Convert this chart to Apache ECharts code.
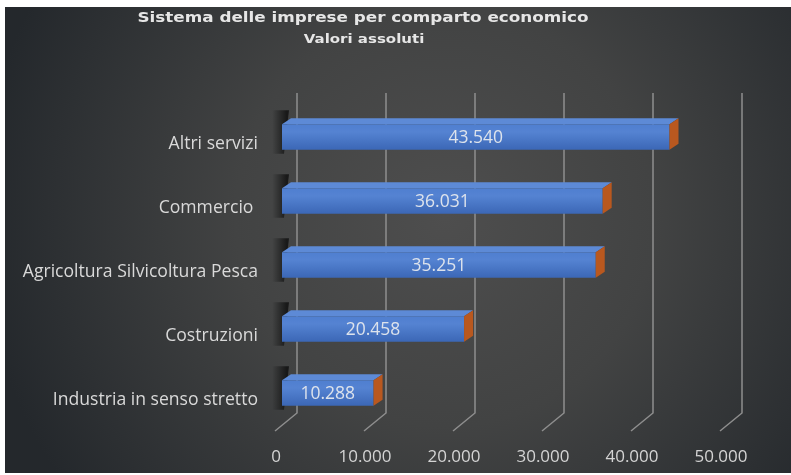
<!DOCTYPE html>
<html>
<head>
<meta charset="utf-8">
<script src="https://cdn.jsdelivr.net/npm/echarts@6/dist/echarts.min.js"></script>
<style>
html,body{margin:0;padding:0;background:#ffffff;}
#chart{position:absolute;left:5px;top:7px;width:786px;height:466px;}
</style>
</head>
<body>
<div id="chart"></div>
<script>
// ---- data ----
var titleText = 'Sistema delle imprese per comparto economico';
var subtitleText = 'Valori assoluti';
var categories = ['Altri servizi', 'Commercio ', 'Agricoltura Silvicoltura Pesca', 'Costruzioni', 'Industria in senso stretto'];
var values = [43540, 36031, 35251, 20458, 10288];
var tickValues = [0, 10000, 20000, 30000, 40000, 50000];

function fmt(v) {
  return String(v).replace(/\B(?=(\d{3})+(?!\d))/g, '.');
}

var chart = echarts.init(document.getElementById('chart'), null, {renderer: 'canvas'});

var DX = 9, DY = -6;          // bar depth vector
var BACK_DX = 15, BACK_DY = -12; // back plane offset
var FRONT_DX = -7, FRONT_DY = 6; // front floor offset

function renderFrame(params, api) {
  var cs = params.coordSys;
  var x = api.coord([api.value(0), 0])[0];
  var topY = cs.y + BACK_DY;
  var botY = cs.y + cs.height + BACK_DY;
  var frontY = cs.y + cs.height + FRONT_DY;
  return {
    type: 'polyline',
    shape: {points: [[x + BACK_DX, topY], [x + BACK_DX, botY], [x + FRONT_DX, frontY]]},
    style: {stroke: '#8e8e8e', lineWidth: 1.5, fill: null}
  };
}

function renderBar(params, api) {
  var v = api.value(0);
  var c = api.value(1);
  var start = api.coord([0, c]);
  var end = api.coord([v, c]);
  var h = api.size([0, 1])[1] * 0.4;
  var x0 = start[0], x1 = end[0];
  var y0 = start[1] - h / 2, y1 = start[1] + h / 2;
  return {
    type: 'group',
    children: [
      {
        type: 'polygon',
        shape: {points: [[x0 - 10, y0 + DY - 8], [x0 + DX - 2, y0 + DY - 8], [x0 + 2, y1 + 4], [x0 - 10, y1 + 4]]},
        style: {
          fill: new echarts.graphic.LinearGradient(0, 0, 1, 0, [
            {offset: 0, color: 'rgba(0,0,0,0)'},
            {offset: 0.55, color: 'rgba(0,0,0,0.45)'},
            {offset: 0.85, color: 'rgba(0,0,0,0.7)'},
            {offset: 1, color: 'rgba(0,0,0,0.7)'}
          ]),
          opacity: 0.9
        }
      },
      {
        type: 'polygon',
        shape: {points: [[x0, y0], [x1, y0], [x1 + DX, y0 + DY], [x0 + DX, y0 + DY]]},
        style: {fill: '#5d8ad6'}
      },
      {
        type: 'rect',
        shape: {x: x0, y: y0, width: x1 - x0, height: y1 - y0},
        style: {
          fill: new echarts.graphic.LinearGradient(0, 0, 0, 1, [
            {offset: 0, color: '#4f7fd0'},
            {offset: 0.3, color: '#5583d2'},
            {offset: 1, color: '#3b67b6'}
          ])
        }
      },
      {
        type: 'polygon',
        shape: {points: [[x1, y0], [x1 + DX, y0 + DY], [x1 + DX, y1 + DY], [x1, y1]]},
        style: {fill: '#b9581f'}
      },
      {
        type: 'text',
        style: {
          text: fmt(v),
          x: (x0 + x1) / 2,
          y: (y0 + y1) / 2 + 1,
          align: 'center',
          verticalAlign: 'middle',
          fill: '#dde3ec',
          fontSize: 17.5,
          fontFamily: 'Open Sans'
        }
      }
    ]
  };
}

var option = {
  animation: false,
  backgroundColor: {
    type: 'radial', x: 0.56, y: 0.45, r: 1.0,
    colorStops: [
      {offset: 0, color: '#4e4e4e'},
      {offset: 0.45, color: '#424343'},
      {offset: 1, color: '#24282c'}
    ]
  },
  graphic: [
    {
      type: 'text', x: 358, y: 11, scaleX: 1.2, originX: 0,
      style: {text: titleText, fill: '#e6e6e6', font: 'bold 14px "DejaVu Sans"', align: 'center', verticalAlign: 'middle'}
    },
    {
      type: 'text', x: 359, y: 33, scaleX: 1.2, originX: 0,
      style: {text: subtitleText, fill: '#e6e6e6', font: 'bold 12.5px "DejaVu Sans"', align: 'center', verticalAlign: 'middle'}
    }
  ],
  grid: {left: 277, width: 445, top: 98, height: 320, containLabel: false},
  xAxis: {
    type: 'value', min: 0, max: 50000, interval: 10000,
    axisLine: {show: false}, axisTick: {show: false}, splitLine: {show: false},
    axisLabel: {
      show: true, margin: 24, color: '#d4d4d4', fontSize: 17, fontFamily: 'Open Sans',
      padding: [0, 12, 0, 0],
      formatter: function (v) { return fmt(v); }
    }
  },
  yAxis: {
    type: 'category', data: categories, inverse: true,
    axisLine: {show: false}, axisTick: {show: false}, splitLine: {show: false},
    axisLabel: {margin: 24, color: '#d9d9d9', fontSize: 17.6, fontFamily: 'Open Sans', verticalAlign: 'top', lineHeight: 13}
  },
  series: [
    {
      type: 'custom', name: 'frame', silent: true, z: 1,
      renderItem: renderFrame,
      data: tickValues.map(function (t) { return [t]; }),
      encode: {x: 0}
    },
    {
      type: 'custom', name: 'Imprese', z: 2,
      renderItem: renderBar,
      data: values.map(function (v, i) { return [v, i]; }),
      encode: {x: 0, y: 1}
    }
  ]
};
chart.setOption(option);
</script>
</body>
</html>
